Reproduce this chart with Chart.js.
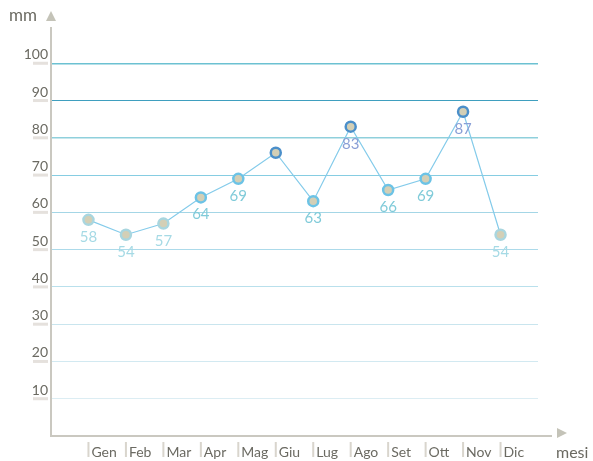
<!DOCTYPE html>
<html>
<head>
<meta charset="utf-8">
<script src="https://cdn.jsdelivr.net/npm/chart.js@4/dist/chart.umd.min.js"></script>
<style>
  html, body { margin: 0; padding: 0; background: #fff; }
  #wrap { width: 593px; height: 461px; position: relative; }
</style>
</head>
<body>
<div id="wrap"><canvas id="myChart"></canvas></div>
<script>
// mesi e piovosita' (mm)
var mesi = ["Gen", "Feb", "Mar", "Apr", "Mag", "Giu", "Lug", "Ago", "Set", "Ott", "Nov", "Dic"];
var valori = [58, 54, 57, 64, 69, 76, 63, 83, 66, 69, 87, 54];
var etichette = ["58", "54", "57", "64", "69", "", "63", "83", "66", "69", "87", "54"];
var yTicks = [10, 20, 30, 40, 50, 60, 70, 80, 90, 100];

var font = "Lato, 'Open Sans', sans-serif";
var grigio = "#6b6a62";

// one empty slot at each end, like the original
var labels = [""].concat(mesi, [""]);
var data = [null].concat(valori, [null]);

var gridColors = {
  10: "#dcedf3", 20: "#d2e9f1", 30: "#c9e5ee", 40: "#b9e0ec", 50: "#acdaea",
  60: "#a4d6e6", 70: "#86cde2", 80: "#8fd0dc", 90: "#3f9fbf", 100: "#6cc1d2"
};

function ringColor(v) {
  if (v == null) return "#a9d6df";
  if (v < 60) return "#a9d6df";
  if (v < 75) return "#6cc3e6";
  return "#4b8fca";
}
function labelColor(v) {
  if (v < 60) return "#a6dae5";
  if (v < 75) return "#80cbd9";
  return "#8a9fd6";
}

var decor = {
  id: "decor",
  afterDraw: function (chart) {
    var c = chart.ctx, a = chart.chartArea;
    var ys = chart.scales.y, xs = chart.scales.x;
    c.save();

    // y labels with small bars
    c.font = "14px " + font;
    c.textAlign = "right";
    c.textBaseline = "alphabetic";
    yTicks.forEach(function (t) {
      var py = ys.getPixelForValue(t);
      c.fillStyle = "#e5e1dd";
      c.fillRect(33, py - 1.5, 15, 3);
      c.fillStyle = grigio;
      c.fillText(String(t), 48, py - 4);
    });

    // axes
    c.strokeStyle = "#cac8c0";
    c.lineWidth = 2;
    c.beginPath();
    c.moveTo(a.left, 27);
    c.lineTo(a.left, a.bottom);
    c.lineTo(552, a.bottom);
    c.stroke();

    c.fillStyle = "#c4c3b8";
    c.beginPath();
    c.moveTo(46, 21); c.lineTo(51, 11); c.lineTo(56, 21);
    c.closePath(); c.fill();
    c.beginPath();
    c.moveTo(557, 428); c.lineTo(567, 433); c.lineTo(557, 438);
    c.closePath(); c.fill();

    c.fillStyle = grigio;
    c.font = "17px " + font;
    c.textAlign = "left";
    c.fillText("mm", 9, 21);
    c.font = "16px " + font;
    c.fillText("mesi", 556, 458);

    // x labels
    c.font = "14px " + font;
    mesi.forEach(function (m, i) {
      var px = xs.getPixelForValue(i + 1);
      c.fillStyle = "#d9d5cd";
      c.fillRect(px - 1, 442, 2, 15);
      c.fillStyle = grigio;
      c.fillText(m, px + 3, 457);
    });

    // value labels under points
    var meta = chart.getDatasetMeta(0);
    c.textAlign = "center";
    c.font = "15px " + font;
    valori.forEach(function (v, i) {
      if (!etichette[i]) return;
      var pt = meta.data[i + 1];
      c.fillStyle = labelColor(v);
      c.fillText(etichette[i], pt.x, pt.y + 22);
    });
    c.restore();
  }
};

var ctx = document.getElementById("myChart").getContext("2d");
var myChart = new Chart(ctx, {
  type: "line",
  data: {
    labels: labels,
    datasets: [{
      data: data,
      borderColor: "#84cbea",
      borderWidth: 1.2,
      tension: 0,
      pointRadius: 5,
      pointHoverRadius: 5,
      pointBorderWidth: 2.5,
      pointBackgroundColor: "#d3cfb6",
      pointBorderColor: function (c) { return ringColor(c.raw); }
    }]
  },
  options: {
    responsive: true,
    maintainAspectRatio: false,
    animation: false,
    layout: { padding: { left: 51, top: 26, right: 55, bottom: 25 } },
    plugins: { legend: { display: false }, tooltip: { enabled: false } },
    scales: {
      x: {
        offset: false,
        grid: { display: false, drawTicks: false },
        border: { display: false },
        ticks: { display: false }
      },
      y: {
        min: 0,
        max: 110,
        grid: {
          drawTicks: false,
          color: function (c) { return gridColors[c.tick.value] || "rgba(0,0,0,0)"; },
          lineWidth: function (c) { return (c.tick.value === 100 || c.tick.value === 80) ? 1.5 : 1; }
        },
        border: { display: false },
        ticks: { display: false, stepSize: 10 }
      }
    }
  },
  plugins: [decor]
});
</script>
</body>
</html>
